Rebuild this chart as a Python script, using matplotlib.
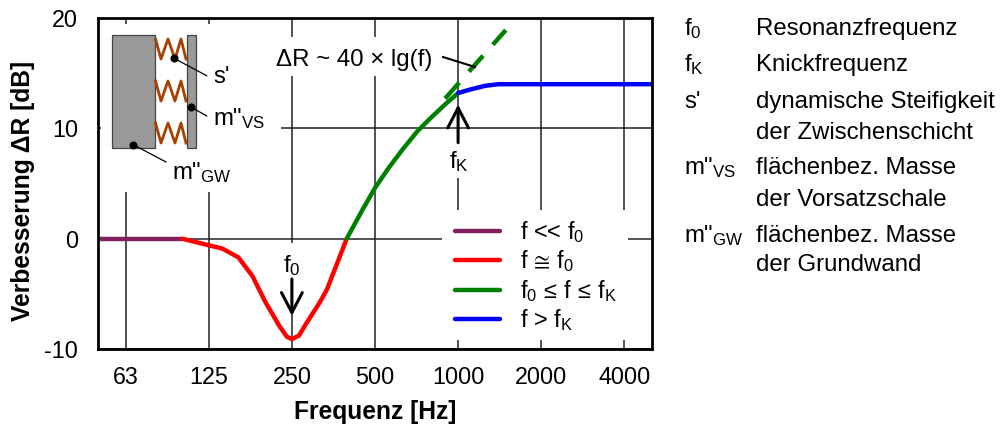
import matplotlib
matplotlib.use("Agg")
import matplotlib.pyplot as plt
import matplotlib.patches as mpatches

plt.rcParams["font.family"] = ["Liberation Sans", "DejaVu Sans"]
plt.rcParams["mathtext.fontset"] = "custom"
plt.rcParams["mathtext.rm"] = "Liberation Sans"
plt.rcParams["mathtext.it"] = "Liberation Sans"
plt.rcParams["mathtext.bf"] = "Liberation Sans:bold"
plt.rcParams["mathtext.default"] = "regular"
plt.rcParams["mathtext.fallback"] = "stixsans"
plt.rcParams["axes.unicode_minus"] = False

W, H = 1007, 424
FS = 17.3

LILA = "#802060"
ROT = "#FF0000"
GRUEN = "#008000"
BLAU = "#0000FF"
BRAUN = "#A84000"
GRAU = "#999999"
GITTER = "#222222"

f_tief = [49.4, 100]
r_tief = [0, 0]
f_reso = [100, 125, 140, 160, 180, 200, 225, 240, 250, 265, 280, 315, 335, 395]
r_reso = [0, -0.6, -0.9, -1.7, -3.4, -5.7, -7.9, -8.9, -9.1, -8.8, -7.8, -5.8, -4.6, 0]
f_mitte = [395, 450, 500, 560, 630, 710, 800, 900, 1000]
r_mitte = [0, 2.6, 4.6, 6.4, 8.1, 9.7, 11.0, 12.2, 13.2]
f_hoch = [1000, 1100, 1250, 1400, 5040]
r_hoch = [13.2, 13.5, 13.85, 14.0, 14.0]
f_trend = [897, 1488]
r_trend = [12.7, 18.9]

x_ticks = [62.5, 125, 250, 500, 1000, 2000, 4000]
x_labels = ["63", "125", "250", "500", "1000", "2000", "4000"]
y_ticks = [-10, 0, 10, 20]

fig = plt.figure(figsize=(W / 100, H / 100), dpi=100)
ax = fig.add_axes([97.5 / W, 1 - 349 / H, (652 - 97.5) / W, (349 - 18) / H])
ax.set_xscale("log", base=2)
ax.set_xlim(49.4, 5040)
ax.set_ylim(-10, 20)
ax.set_xticks(x_ticks)
ax.set_xticklabels(x_labels)
ax.minorticks_off()
ax.set_yticks(y_ticks)
ax.tick_params(length=0, labelsize=16.8, pad=12)
ax.tick_params(axis="y", pad=14)
ax.grid(color=GITTER, lw=1.1)
ax.set_axisbelow(True)
for s in ax.spines.values():
    s.set_linewidth(2.0)
    s.set_zorder(6)
ax.set_xlabel("Frequenz [Hz]", fontsize=17.7, fontweight="bold", labelpad=8)
ax.set_ylabel("Verbesserung ΔR [dB]", fontsize=17.7, fontweight="bold")
ax.yaxis.set_label_coords(-0.113, 0.477)

# Kurve
lw = 3.2
ax.plot(f_trend, r_trend, color=GRUEN, lw=lw, ls=(0, (4.8, 3.3)), dash_capstyle="butt", zorder=3)
ax.plot(f_tief, r_tief, color=LILA, lw=lw, solid_capstyle="round", zorder=3, label="f << f$_0$")
ax.plot(f_reso, r_reso, color=ROT, lw=lw, solid_capstyle="round", zorder=3, label=r"f$\,{\cong}\,$f$_0$")
ax.plot(f_mitte, r_mitte, color=GRUEN, lw=lw, solid_capstyle="round", zorder=3,
        label=r"f$_0\,{\leq}\,$f$\,{\leq}\,$f$_K$")
ax.plot(f_hoch, r_hoch, color=BLAU, lw=lw, solid_capstyle="round", zorder=4, label="f > f$_K$")

leg = ax.legend(loc="lower left", bbox_to_anchor=((450.3 - 97.5) / 554.5, (349 - 338) / 331),
                fontsize=16.9, frameon=False, handlelength=1.9, handletextpad=0.85,
                labelspacing=0.15, borderaxespad=0, borderpad=0.2)
leg.set_zorder(5)

pfeil = dict(arrowstyle="->,head_length=1.44,head_width=0.75", color="black", lw=2.2,
             shrinkA=0, shrinkB=0, mutation_scale=10)
ax.annotate("", xy=(250, -7.0), xytext=(250, -3.65), arrowprops=pfeil, zorder=5)
ax.annotate("", xy=(1000, 12.15), xytext=(1000, 8.7), arrowprops=pfeil, zorder=5)

# Ebene in Pixelkoordinaten fuer Skizze und Beschriftung
ov = fig.add_axes([0, 0, 1, 1])
ov.set_xlim(0, W)
ov.set_ylim(H, 0)
ov.axis("off")
ov.patch.set_alpha(0)
# weisse Flaechen unter der Kurve, darum in ax
for x0, y0, x1, y1 in [(101, 24, 281, 192), (270, 37, 432, 76), (280, 243, 303, 279),
                       (445, 143, 472, 178), (442, 210, 628, 340)]:
    ax.add_patch(mpatches.Rectangle((x0, y0), x1 - x0, y1 - y0, transform=ov.transData,
                                    fc="white", ec="none", zorder=2))

# Skizze
for x0, x1 in [(111.7, 155), (186.7, 196)]:
    ov.add_patch(mpatches.Rectangle((x0, 35), x1 - x0, 113, fc=GRAU, ec="#444444", lw=0.9))
zick_x = [155.5, 161, 168, 175, 181, 186]
for y0 in [39, 81, 123]:
    zick_y = [y0, y0 + 20, y0, y0 + 20, y0, y0 + 20]
    ov.plot(zick_x, zick_y, color=BRAUN, lw=2.0)
for xa, ya, xb, yb in [(174, 58.3, 206.7, 75.7), (191, 107, 206.7, 116), (133.3, 144.7, 166, 162)]:
    ov.plot([xa, xb], [ya, yb], color="black", lw=0.9)
    ov.plot([xa], [ya], "o", color="black", ms=4.8)
ov.text(213, 83, "s'", fontsize=FS, va="baseline")
ov.text(213, 125, 'm"$_{VS}$', fontsize=FS, va="baseline")
ov.text(172, 179, 'm"$_{GW}$', fontsize=FS, va="baseline")

ov.text(276, 66, "ΔR ~ 40 × lg(f)", fontsize=FS, va="baseline")
ov.plot([443, 475], [57, 67], color="black", lw=1.5)
ov.text(291.5, 272, "f$_0$", fontsize=FS, ha="center", va="baseline")
ov.text(459, 168, "f$_K$", fontsize=FS, ha="center", va="baseline")

# Erlaeuterung rechts
kurz = [("f$_0$", 35), ("f$_K$", 71), ("s'", 108), ('m"$_{VS}$', 174), ('m"$_{GW}$', 242)]
lang = [("Resonanzfrequenz", 35), ("Knickfrequenz", 71), ("dynamische Steifigkeit", 108),
        ("der Zwischenschicht", 139), ("flächenbez. Masse", 174), ("der Vorsatzschale", 206),
        ("flächenbez. Masse", 242), ("der Grundwand", 271)]
for txt, y in kurz:
    ov.text(684, y, txt, fontsize=FS, va="baseline")
for txt, y in lang:
    ov.text(756, y, txt, fontsize=FS, va="baseline")

fig.savefig("out.png", dpi=100)
